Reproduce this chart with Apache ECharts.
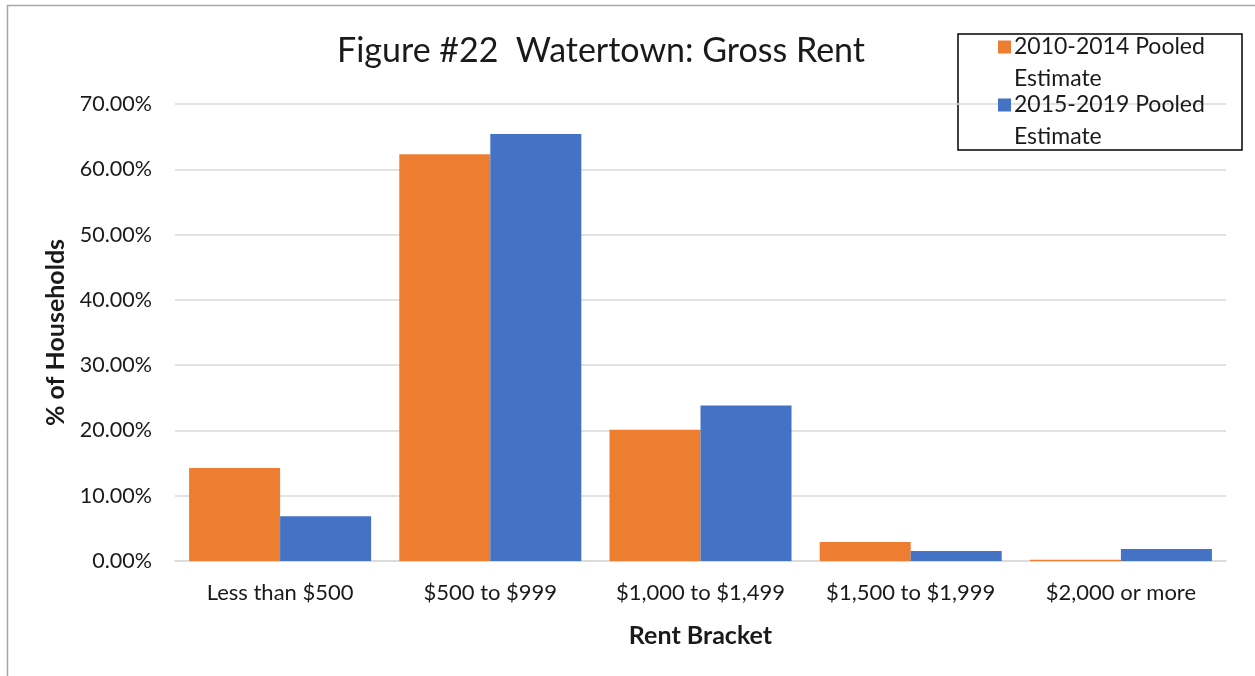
<!DOCTYPE html>
<html>
<head>
<meta charset="utf-8">
<script src="https://cdn.jsdelivr.net/npm/echarts@6/dist/echarts.min.js"></script>
<style>
html,body{margin:0;padding:0;background:#fff;}
#c{width:1255px;height:676px;}
</style>
</head>
<body>
<div id="c"></div>
<script>
const categories = ['Less than $500', '$500 to $999', '$1,000 to $1,499', '$1,500 to $1,999', '$2,000 or more'];
const seriesNames = ['2010-2014 Pooled Estimate', '2015-2019 Pooled Estimate'];
const pooled2010_2014 = [14.24, 62.3, 20.1, 2.9, 0.2];
const pooled2015_2019 = [6.85, 65.4, 23.8, 1.55, 1.85];
const yTicks = [0, 10, 20, 30, 40, 50, 60, 70];

const FONT = 'Lato, "Open Sans", sans-serif';
const chart = echarts.init(document.getElementById('c'), null, {renderer: 'canvas'});
const LH = 32;
chart.setOption({
  animation: false,
  backgroundColor: '#fff',
  title: {
    text: 'Figure #22  Watertown: Gross Rent',
    left: 596, top: 29, textAlign: 'center',
    textStyle: {fontFamily: FONT, fontSize: 34, fontWeight: 'normal', color: '#1a1a1a'}
  },
  graphic: [
    {type: 'rect', silent: true, shape: {x: 7.5, y: 5.5, width: 1400, height: 800},
     style: {fill: 'none', stroke: '#a6a6a6', lineWidth: 1.5}},
    {type: 'rect', silent: true, shape: {x: 958, y: 34, width: 284, height: 116},
     style: {fill: 'none', stroke: '#000', lineWidth: 1.5}}
  ],
  legend: {
    orient: 'vertical',
    left: 998, top: -1,
    padding: 0,
    itemWidth: 13, itemHeight: 13,
    itemGap: 58 - 3 * LH,
    icon: 'rect',
    data: seriesNames,
    formatter: function (n) { return ' \n' + n.replace(' Estimate', '\nEstimate'); },
    textStyle: {fontFamily: FONT, fontSize: 23, color: '#1a1a1a', lineHeight: LH, padding: [0, 0, 0, -2]}
  },
  grid: {left: 175, right: 29, top: 104, bottom: 115, containLabel: false},
  xAxis: {
    type: 'category',
    data: categories,
    name: 'Rent Bracket',
    nameLocation: 'middle',
    nameGap: 62,
    nameTextStyle: {fontFamily: FONT, fontSize: 25, fontWeight: 'bold', color: '#1a1a1a'},
    axisLine: {lineStyle: {color: '#d9d9d9', width: 1.5}},
    axisTick: {show: false},
    axisLabel: {fontFamily: FONT, fontSize: 22, color: '#1a1a1a', margin: 21, interval: 0, hideOverlap: false}
  },
  yAxis: {
    type: 'value',
    min: 0, max: 70, interval: 10,
    name: '% of Households',
    nameLocation: 'middle',
    nameGap: 101,
    nameRotate: 90,
    nameTextStyle: {fontFamily: FONT, fontSize: 25, fontWeight: 'bold', color: '#1a1a1a'},
    axisLine: {show: false},
    axisTick: {show: false},
    splitLine: {lineStyle: {color: '#d9d9d9', width: 1.5}},
    axisLabel: {
      fontFamily: FONT, fontSize: 21.5, color: '#1a1a1a', margin: 23,
      formatter: function (v) { return yTicks.indexOf(v) >= 0 ? v.toFixed(2) + '%' : ''; }
    }
  },
  series: [
    {name: seriesNames[0], type: 'bar', data: pooled2010_2014, itemStyle: {color: '#ED7D31'},
     barGap: '0%', barCategoryGap: '13.4%'},
    {name: seriesNames[1], type: 'bar', data: pooled2015_2019, itemStyle: {color: '#4472C4'},
     barGap: '0%', barCategoryGap: '13.4%'}
  ]
});
</script>
</body>
</html>
